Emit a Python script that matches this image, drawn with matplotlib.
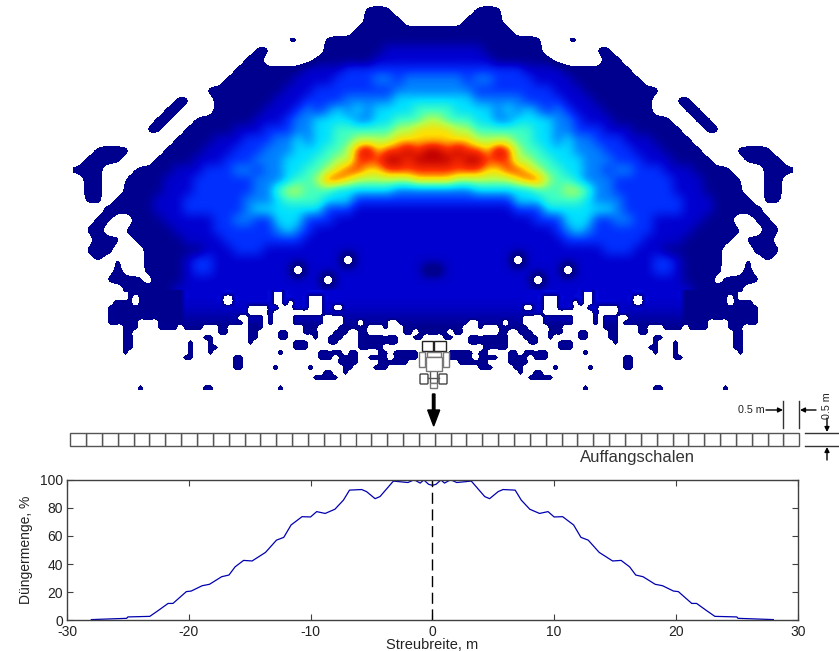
import numpy as np
import matplotlib
matplotlib.use('Agg')
import matplotlib.pyplot as plt
import matplotlib.patches as patches
from matplotlib.colors import LinearSegmentedColormap

plt.rcParams['font.family'] = ['Liberation Sans', 'DejaVu Sans']

# left half of the spread pattern, 10 px cells, level 0 = nothing, a = highest
heat_rows = [
    "000000000000000000000000000000000000",
    "000000000000000000000000000001110000",
    "000000000000000000000000000001111000",
    "000000000000000000000000000011111111",
    "000000000000000000000110011111111111",
    "000000000000000000110000011111122222",
    "000000000000000001100000111111222222",
    "000000000000000011111112222333333333",
    "000000000000000111111122223333443444",
    "000000000000011111111222333333334444",
    "000000000011001111112223333444445555",
    "000000000110001111122234345454555566",
    "000000001100111111222344555544556667",
    "000000011001111122233344556666667788",
    "000000000011112223334454556677778888",
    "0011110001111222333444" + "5556679a899a9a",
    "0111100011112223334445" + "556677999aa9aa",
    "1110001111222333443445" + "56678998899999",
    "0110011112223333334445" + "66799877777788",
    "01100111122233333344" + "6776665555554444",
    "011011112223333334445666655533333333",
    "000111112223333334555555533322222222",
    "001100111222223344335553332222222222",
    "011001111122223333334543222222222222",
    "001110111112222333333332222222222222",
    "011100011111122233322222222222222222",
    "001010011112332222222222222022222222",
    "000010011112332222222202222222222220",
    "000111101112222222222222202222222222",
    "000001111122222222222222222222222222",
    "000001111122222222222222222222222222",
]
# single empty cells inside the pattern (row, column of heat_rows)
empty_cells = [(26, 27), (27, 22), (28, 25)]
# scattered grains below the pattern, 5 px cells: filled cell ranges per row
speck_rows = [
    [(11, 39), (42, 71)],
    [(11, 11), (13, 29), (32, 39), (42, 46), (50, 71)],
    [(8, 11), (13, 29), (32, 39), (42, 42), (44, 46), (50, 71)],
    [(7, 34), (39, 40), (44, 46), (50, 51), (54, 71)],
    [(7, 34), (39, 39), (50, 71)],
    [(7, 32), (35, 37), (39, 39), (44, 49), (54, 71)],
    [(7, 12), (17, 33), (35, 37), (39, 39), (44, 49), (54, 56), (58, 62), (65, 71)],
    [(10, 12), (17, 20), (22, 25), (29, 30), (35, 37), (46, 48), (53, 58), (62, 62), (66, 71)],
    [(10, 11), (29, 30), (35, 36), (41, 42), (46, 48), (52, 54), (57, 58), (66, 67), (69, 71)],
    [(10, 11), (26, 27), (35, 36), (41, 42), (48, 48), (51, 53), (57, 64), (68, 69)],
    [(10, 11), (23, 23), (27, 27), (35, 35), (44, 46), (51, 52), (57, 64)],
    [(10, 11), (23, 23), (27, 28), (44, 46), (57, 61)],
    [(10, 10), (23, 23), (27, 27), (41, 41), (49, 53), (55, 56), (61, 62), (64, 68)],
    [(22, 23), (32, 33), (49, 51), (53, 56), (59, 62), (64, 68)],
    [(32, 33), (53, 56), (61, 66)],
    [(32, 33), (40, 40), (47, 47), (54, 55), (60, 62)],
    [(50, 51), (54, 54)],
    [(48, 52)],
    [],
    [(13, 13), (26, 27), (41, 41)],
]
# level of the filled cells in each row of speck_rows, inner part
speck_levels = [2, 2, 1.9, 1.8, 1.6, 1.4, 1.2, 1, 1, 1, 1, 1, 1, 1, 1, 1, 1, 1, 1, 1]
level_colors = ['#00008f', '#0000d0', '#0030ff', '#0080ff', '#00e0ff',
                '#40ffc0', '#b0ff50', '#ffe000', '#ff3000', '#c00000']

# left half of the distribution curve, mirrored below
half_x = [-28, -25.1, -25, -23.2, -22.5, -21.7, -21.3, -20.2, -19.8, -18.9, -18.3,
          -17.3, -16.7, -16.2, -15.5, -14.8, -13.7, -12.8, -12.2, -11.6, -10.7, -10,
          -9.5, -8.8, -8, -7.3, -6.8, -5.8, -5.4, -4.7, -4.3, -3.2, -2, -1.5, -1,
          -0.7, -0.3]
half_y = [0.5, 1.4, 2.4, 2.8, 7, 12, 12, 20.4, 20.8, 24.6, 25.6,
          31, 32.2, 38, 42.6, 42.2, 48.3, 57, 59, 67.8, 73.7, 73.5,
          77.3, 76, 79, 85.5, 92.6, 93, 91.5, 86.5, 88, 99, 98, 100, 97.6,
          99.8, 96.7]
center_y = 96

x_ticks = [-30, -20, -10, 0, 10, 20, 30]
y_ticks = [0, 20, 40, 60, 80, 100]
n_cups = 46

W, H = 839, 651
fig = plt.figure(figsize=(W / 100, H / 100), dpi=100, facecolor='white')

# overlay in pixel coordinates for the pattern and the sketch parts
ax = fig.add_axes([0, 0, 1, 1])
low = 0.6
stops = [(0, level_colors[0])] + [((i + 1 - low) / (10 - low), c) for i, c in enumerate(level_colors)]
cmap = LinearSegmentedColormap.from_list('spread', stops)
cmap.set_under((1, 1, 1, 0))

heat = np.array([[int(c, 16) for c in r] for r in heat_rows], dtype=float)
# bicubic smooths a lone empty cell away, push it lower so it stays open
for r, c in empty_cells:
    heat[r, c] = -2
heat = np.hstack([heat, heat[:, ::-1]])
top_im = ax.imshow(heat, extent=[73, 793, 305, -5], cmap=cmap, vmin=low, vmax=10,
                   interpolation='bicubic', interpolation_stage='data', aspect='auto', zorder=1)

specks = np.zeros((len(speck_rows), 72))
for r, spans in enumerate(speck_rows):
    for a, b in spans:
        specks[r, a:b + 1] = 1
    # only the inner part is brighter, the rim stays dark
    specks[r, 22:][specks[r, 22:] > 0] = speck_levels[r]
specks = np.hstack([specks, specks[:, ::-1]])
ax.imshow(specks, extent=[73, 793, 390, 290], cmap=cmap, vmin=low, vmax=10,
          interpolation='catrom', interpolation_stage='data', aspect='auto', zorder=2)
ax.set_xlim(0, W)
ax.set_ylim(H, 0)
ax.axis('off')
top_im.set_clip_path(patches.Rectangle((0, 0), W, 292, transform=ax.transData))

# tractor
ec = '#222222'
for xy, w, h, col in [((421.7, 340.7), 11.6, 10, ec), ((434, 340.7), 11.7, 10, ec),
                      ((419, 352), 6, 15, '#777777'), ((443, 352), 6, 15, '#777777'),
                      ((427, 352), 14, 5, '#777777'), ((430, 370), 7, 13, '#555555'),
                      ((425.7, 356.7), 16.6, 14, '#777777'), ((430, 383), 7, 5, '#777777')]:
    ax.add_patch(patches.Rectangle(xy, w, h, fc='white', ec=col, lw=1, zorder=3))
for x0 in [420, 439]:
    ax.add_patch(patches.FancyBboxPatch((x0 + 1, 375), 6, 8, boxstyle='round,pad=1',
                                        fc='white', ec='#444444', lw=1, zorder=3))
ax.plot([428, 439], [378, 378], color='#555555', lw=1, zorder=3)

# arrow towards the collectors
ax.add_patch(patches.FancyArrow(433.7, 394, 0, 32, width=2.5, head_width=12, head_length=16,
                                length_includes_head=True, color='black', zorder=3))

# row of collecting trays
cup_w = 15.85
for i in range(n_cups):
    ax.add_patch(patches.Rectangle((799.3 - cup_w * (i + 1), 432.7), cup_w, 13.6,
                                   fc='white', ec='#555555', lw=1))
ax.text(637, 457.5, 'Auffangschalen', ha='center', va='center', fontsize=12, color='#333333')

# size marks
ax.plot([783.3, 783.3], [401, 428], color='#333333', lw=1)
ax.plot([799.3, 799.3], [401, 428], color='#333333', lw=1)
ax.plot([805, 839], [432.7, 432.7], color='#333333', lw=1)
ax.plot([805, 839], [446.3, 446.3], color='#333333', lw=1)
ap = dict(arrowstyle='-|>', color='black', lw=1, mutation_scale=7, shrinkA=0, shrinkB=0)
ax.annotate('', xy=(783, 410), xytext=(766, 410), arrowprops=ap)
ax.annotate('', xy=(800, 410), xytext=(816, 410), arrowprops=ap)
ax.annotate('', xy=(827, 432), xytext=(827, 418), arrowprops=ap)
ax.annotate('', xy=(827, 447), xytext=(827, 460), arrowprops=ap)
ax.text(751, 410, '0.5 m', ha='center', va='center', fontsize=7.7, color='#222222')
ax.text(827, 406, '0.5 m', ha='center', va='center', rotation=90, fontsize=7.7, color='#222222')

# distribution curve
ax2 = fig.add_axes([67 / W, (H - 620.3) / H, 730.7 / W, 140.6 / H])
ax2.patch.set_alpha(0)
curve_x = half_x + [0] + [-v for v in half_x[::-1]]
curve_y = half_y + [center_y] + half_y[::-1]
ax2.plot(curve_x, curve_y, color='#0000b0', lw=0.9)
ax2.plot([0, 0], [0, 100], color='black', lw=1, dashes=(8, 4))
ax2.set_xlim(-30, 30)
ax2.set_ylim(0, 100)
ax2.set_xticks(x_ticks)
ax2.set_xticklabels([str(t) for t in x_ticks])
ax2.set_yticks(y_ticks)
ax2.tick_params(direction='in', top=True, right=True, length=4, width=0.8, color='#404040',
                labelsize=10, labelcolor='#222222')
ax2.tick_params(axis='x', pad=3.5)
ax2.tick_params(axis='y', pad=3)
for s in ax2.spines.values():
    s.set_color('#404040')
    s.set_linewidth(1)
ax2.set_xlabel('Streubreite, m', fontsize=10.5, labelpad=-0.5, color='#222222')
ax2.set_ylabel('Düngermenge, %', fontsize=10, labelpad=5, color='#222222')

fig.savefig('out.png', dpi=100)
